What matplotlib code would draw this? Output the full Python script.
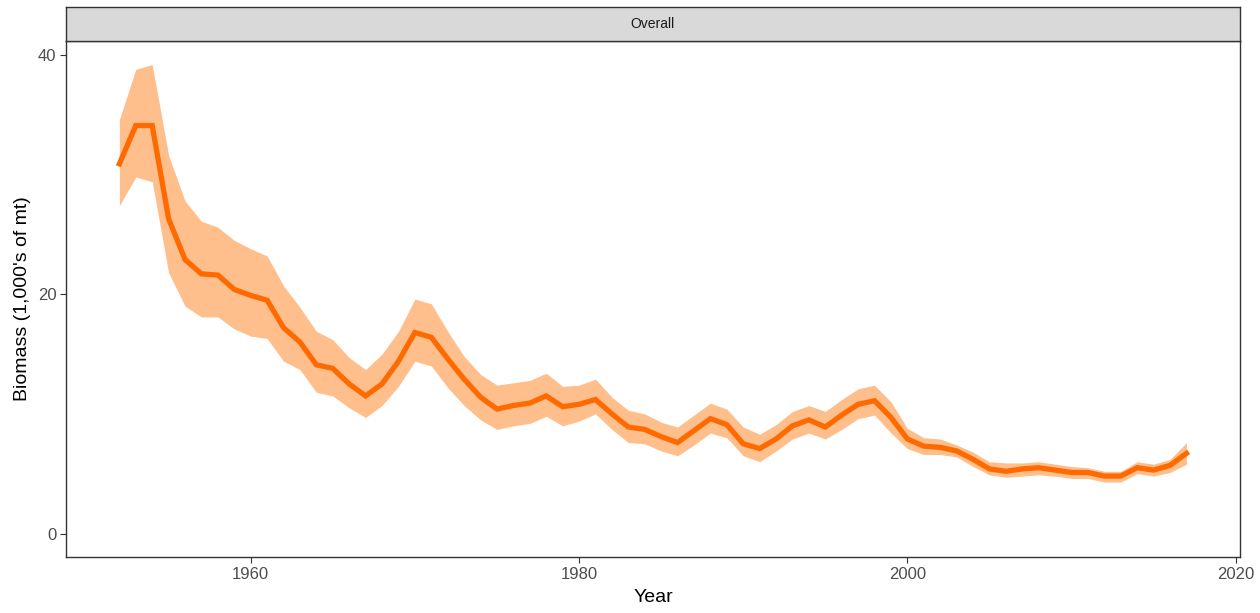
import numpy as np
import matplotlib.pyplot as plt

years = np.arange(1952, 2018)

biomass = [30.9, 34.1, 34.1, 26.3, 22.9, 21.7, 21.6, 20.4, 19.9, 19.5,
           17.2, 16.0, 14.1, 13.8, 12.5, 11.5, 12.5, 14.4, 16.8, 16.4,
           14.6, 12.9, 11.4, 10.4, 10.7, 10.9, 11.5, 10.6, 10.8, 11.2,
           10.0, 8.9, 8.7, 8.1, 7.6, 8.6, 9.6, 9.1, 7.5, 7.1,
           7.9, 9.0, 9.5, 8.9, 9.9, 10.8, 11.1, 9.7, 7.9, 7.3,
           7.2, 6.9, 6.2, 5.4, 5.2, 5.4, 5.5, 5.3, 5.1, 5.1,
           4.8, 4.8, 5.5, 5.3, 5.7, 6.7]

upper = [34.6, 38.8, 39.2, 31.6, 27.8, 26.1, 25.6, 24.5, 23.8, 23.2,
         20.7, 18.9, 16.9, 16.2, 14.7, 13.7, 15.0, 16.9, 19.6, 19.2,
         16.9, 14.8, 13.3, 12.4, 12.6, 12.8, 13.4, 12.3, 12.4, 12.9,
         11.4, 10.3, 10.0, 9.3, 8.9, 9.9, 10.9, 10.4, 8.9, 8.3,
         9.1, 10.2, 10.7, 10.2, 11.2, 12.1, 12.4, 11.0, 8.8, 8.0,
         7.9, 7.4, 6.8, 6.0, 5.9, 5.9, 6.0, 5.8, 5.6, 5.5,
         5.2, 5.2, 6.0, 5.8, 6.2, 7.6]

lower = [27.4, 29.8, 29.4, 21.8, 19.0, 18.1, 18.1, 17.1, 16.5, 16.3,
         14.4, 13.7, 11.8, 11.5, 10.5, 9.7, 10.7, 12.3, 14.4, 14.0,
         12.2, 10.7, 9.5, 8.7, 9.0, 9.2, 9.8, 9.0, 9.4, 10.0,
         8.7, 7.6, 7.5, 6.9, 6.5, 7.4, 8.4, 8.0, 6.5, 6.0,
         6.9, 7.9, 8.4, 7.9, 8.7, 9.6, 9.9, 8.4, 7.1, 6.6,
         6.6, 6.4, 5.6, 4.9, 4.7, 4.8, 4.9, 4.8, 4.6, 4.6,
         4.3, 4.3, 5.0, 4.8, 5.1, 5.8]

xticks = [1960, 1980, 2000, 2020]
yticks = [0, 20, 40]


def main():
    plt.rcParams['font.family'] = ['Liberation Sans', 'DejaVu Sans']
    fig = plt.figure(figsize=(12.6, 6.13), dpi=100)
    ax = fig.add_axes([0.0524, 0.0914, 0.9316, 0.8416])

    ax.fill_between(years, lower, upper, color='#FFBF8C', linewidth=0)
    ax.plot(years, biomass, color='#FF6A00', linewidth=3.8, solid_joinstyle='miter')

    ax.set_xlim(1948.75, 2020.25)
    ax.set_ylim(-1.96, 41.16)
    ax.set_xticks(xticks)
    ax.set_yticks(yticks)
    ax.tick_params(colors='#333333', labelcolor='#4D4D4D', labelsize=12, length=4, pad=3)
    ax.set_xlabel('Year', fontsize=14, labelpad=5)
    ax.set_ylabel("Biomass (1,000's of mt)", fontsize=14, labelpad=5)
    for s in ax.spines.values():
        s.set_color('#333333')
        s.set_linewidth(1.0)

    # facet strip on top
    strip = fig.add_axes([0.0524, 0.9331, 0.9316, 0.0555])
    strip.set_facecolor('#D9D9D9')
    strip.set_xticks([])
    strip.set_yticks([])
    for s in strip.spines.values():
        s.set_color('#333333')
        s.set_linewidth(1.0)
    strip.text(0.5, 0.5, 'Overall', ha='center', va='center', fontsize=10,
               color='#1A1A1A', transform=strip.transAxes)

    fig.savefig('out.png', dpi=100)


if __name__ == "__main__":
    main()
